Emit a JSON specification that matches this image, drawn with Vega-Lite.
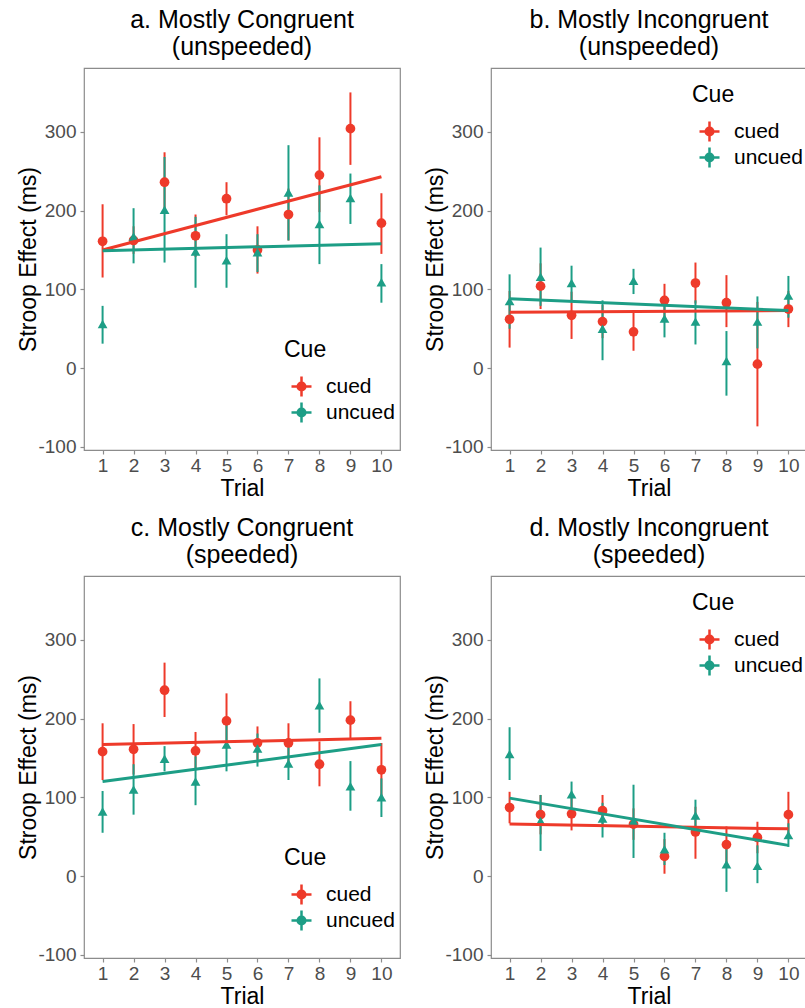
{
  "$schema": "https://vega.github.io/schema/vega-lite/v6.json",
  "padding": {"left": 17, "top": 7, "right": 0, "bottom": 0},
  "bounds": "flush",
  "columns": 2,
  "spacing": {"row": 126, "column": 91},
  "datasets": {
    "means": [
      {"panel": "a", "cue": "cued", "trial": 1, "m": 161, "lo": 115, "hi": 208},
      {"panel": "a", "cue": "cued", "trial": 2, "m": 162, "lo": 145, "hi": 180},
      {"panel": "a", "cue": "cued", "trial": 3, "m": 236, "lo": 198, "hi": 274},
      {"panel": "a", "cue": "cued", "trial": 4, "m": 168, "lo": 141, "hi": 195},
      {"panel": "a", "cue": "cued", "trial": 5, "m": 215, "lo": 194, "hi": 236},
      {"panel": "a", "cue": "cued", "trial": 6, "m": 150, "lo": 120, "hi": 180},
      {"panel": "a", "cue": "cued", "trial": 7, "m": 195, "lo": 162, "hi": 228},
      {"panel": "a", "cue": "cued", "trial": 8, "m": 245, "lo": 198, "hi": 293},
      {"panel": "a", "cue": "cued", "trial": 9, "m": 304, "lo": 258, "hi": 350},
      {"panel": "a", "cue": "cued", "trial": 10, "m": 184, "lo": 145, "hi": 222},
      {"panel": "a", "cue": "uncued", "trial": 1, "m": 56, "lo": 31, "hi": 79},
      {"panel": "a", "cue": "uncued", "trial": 2, "m": 167, "lo": 133, "hi": 203},
      {"panel": "a", "cue": "uncued", "trial": 3, "m": 201, "lo": 134, "hi": 268},
      {"panel": "a", "cue": "uncued", "trial": 4, "m": 148, "lo": 102, "hi": 192},
      {"panel": "a", "cue": "uncued", "trial": 5, "m": 137, "lo": 102, "hi": 170},
      {"panel": "a", "cue": "uncued", "trial": 6, "m": 147, "lo": 122, "hi": 170},
      {"panel": "a", "cue": "uncued", "trial": 7, "m": 223, "lo": 162, "hi": 283},
      {"panel": "a", "cue": "uncued", "trial": 8, "m": 183, "lo": 132, "hi": 232},
      {"panel": "a", "cue": "uncued", "trial": 9, "m": 216, "lo": 183, "hi": 247},
      {"panel": "a", "cue": "uncued", "trial": 10, "m": 109, "lo": 83, "hi": 132},
      {"panel": "b", "cue": "cued", "trial": 1, "m": 62, "lo": 26, "hi": 98},
      {"panel": "b", "cue": "cued", "trial": 2, "m": 104, "lo": 75, "hi": 133},
      {"panel": "b", "cue": "cued", "trial": 3, "m": 67, "lo": 37, "hi": 97},
      {"panel": "b", "cue": "cued", "trial": 4, "m": 59, "lo": 38, "hi": 80},
      {"panel": "b", "cue": "cued", "trial": 5, "m": 46, "lo": 22, "hi": 71},
      {"panel": "b", "cue": "cued", "trial": 6, "m": 86, "lo": 65, "hi": 107},
      {"panel": "b", "cue": "cued", "trial": 7, "m": 108, "lo": 82, "hi": 134},
      {"panel": "b", "cue": "cued", "trial": 8, "m": 83, "lo": 52, "hi": 118},
      {"panel": "b", "cue": "cued", "trial": 9, "m": 5, "lo": -74, "hi": 84},
      {"panel": "b", "cue": "cued", "trial": 10, "m": 75, "lo": 52, "hi": 98},
      {"panel": "b", "cue": "uncued", "trial": 1, "m": 85, "lo": 50, "hi": 119},
      {"panel": "b", "cue": "uncued", "trial": 2, "m": 116, "lo": 79, "hi": 153},
      {"panel": "b", "cue": "uncued", "trial": 3, "m": 108, "lo": 86, "hi": 130},
      {"panel": "b", "cue": "uncued", "trial": 4, "m": 50, "lo": 10, "hi": 86},
      {"panel": "b", "cue": "uncued", "trial": 5, "m": 111, "lo": 94, "hi": 126},
      {"panel": "b", "cue": "uncued", "trial": 6, "m": 63, "lo": 39, "hi": 86},
      {"panel": "b", "cue": "uncued", "trial": 7, "m": 59, "lo": 30, "hi": 86},
      {"panel": "b", "cue": "uncued", "trial": 8, "m": 9, "lo": -35, "hi": 47},
      {"panel": "b", "cue": "uncued", "trial": 9, "m": 59, "lo": 25, "hi": 91},
      {"panel": "b", "cue": "uncued", "trial": 10, "m": 92, "lo": 64, "hi": 117},
      {"panel": "c", "cue": "cued", "trial": 1, "m": 158, "lo": 122, "hi": 194},
      {"panel": "c", "cue": "cued", "trial": 2, "m": 161, "lo": 129, "hi": 193},
      {"panel": "c", "cue": "cued", "trial": 3, "m": 236, "lo": 202, "hi": 271},
      {"panel": "c", "cue": "cued", "trial": 4, "m": 159, "lo": 135, "hi": 183},
      {"panel": "c", "cue": "cued", "trial": 5, "m": 197, "lo": 162, "hi": 232},
      {"panel": "c", "cue": "cued", "trial": 6, "m": 169, "lo": 148, "hi": 190},
      {"panel": "c", "cue": "cued", "trial": 7, "m": 169, "lo": 145, "hi": 194},
      {"panel": "c", "cue": "cued", "trial": 8, "m": 142, "lo": 114, "hi": 171},
      {"panel": "c", "cue": "cued", "trial": 9, "m": 198, "lo": 175, "hi": 222},
      {"panel": "c", "cue": "cued", "trial": 10, "m": 135, "lo": 101, "hi": 169},
      {"panel": "c", "cue": "uncued", "trial": 1, "m": 82, "lo": 55, "hi": 108},
      {"panel": "c", "cue": "uncued", "trial": 2, "m": 110, "lo": 78, "hi": 142},
      {"panel": "c", "cue": "uncued", "trial": 3, "m": 149, "lo": 133, "hi": 165},
      {"panel": "c", "cue": "uncued", "trial": 4, "m": 120, "lo": 90, "hi": 152},
      {"panel": "c", "cue": "uncued", "trial": 5, "m": 167, "lo": 133, "hi": 194},
      {"panel": "c", "cue": "uncued", "trial": 6, "m": 162, "lo": 139, "hi": 181},
      {"panel": "c", "cue": "uncued", "trial": 7, "m": 143, "lo": 122, "hi": 164},
      {"panel": "c", "cue": "uncued", "trial": 8, "m": 217, "lo": 182, "hi": 251},
      {"panel": "c", "cue": "uncued", "trial": 9, "m": 114, "lo": 83, "hi": 146},
      {"panel": "c", "cue": "uncued", "trial": 10, "m": 100, "lo": 75, "hi": 124},
      {"panel": "d", "cue": "cued", "trial": 1, "m": 87, "lo": 67, "hi": 107},
      {"panel": "d", "cue": "cued", "trial": 2, "m": 78, "lo": 53, "hi": 103},
      {"panel": "d", "cue": "cued", "trial": 3, "m": 79, "lo": 58, "hi": 100},
      {"panel": "d", "cue": "cued", "trial": 4, "m": 83, "lo": 63, "hi": 103},
      {"panel": "d", "cue": "cued", "trial": 5, "m": 66, "lo": 46, "hi": 86},
      {"panel": "d", "cue": "cued", "trial": 6, "m": 25, "lo": 3, "hi": 47},
      {"panel": "d", "cue": "cued", "trial": 7, "m": 56, "lo": 22, "hi": 88},
      {"panel": "d", "cue": "cued", "trial": 8, "m": 40, "lo": 17, "hi": 63},
      {"panel": "d", "cue": "cued", "trial": 9, "m": 49, "lo": 29, "hi": 69},
      {"panel": "d", "cue": "cued", "trial": 10, "m": 78, "lo": 50, "hi": 107},
      {"panel": "d", "cue": "uncued", "trial": 1, "m": 155, "lo": 122, "hi": 189},
      {"panel": "d", "cue": "uncued", "trial": 2, "m": 70, "lo": 32, "hi": 103},
      {"panel": "d", "cue": "uncued", "trial": 3, "m": 104, "lo": 83, "hi": 120},
      {"panel": "d", "cue": "uncued", "trial": 4, "m": 73, "lo": 49, "hi": 93},
      {"panel": "d", "cue": "uncued", "trial": 5, "m": 70, "lo": 23, "hi": 116},
      {"panel": "d", "cue": "uncued", "trial": 6, "m": 34, "lo": 14, "hi": 55},
      {"panel": "d", "cue": "uncued", "trial": 7, "m": 77, "lo": 58, "hi": 97},
      {"panel": "d", "cue": "uncued", "trial": 8, "m": 15, "lo": -20, "hi": 42},
      {"panel": "d", "cue": "uncued", "trial": 9, "m": 13, "lo": -9, "hi": 39},
      {"panel": "d", "cue": "uncued", "trial": 10, "m": 52, "lo": 37, "hi": 67}
    ],
    "fits": [
      {"panel": "a", "cue": "cued", "trial": 1, "fit": 150},
      {"panel": "a", "cue": "cued", "trial": 10, "fit": 243},
      {"panel": "a", "cue": "uncued", "trial": 1, "fit": 149},
      {"panel": "a", "cue": "uncued", "trial": 10, "fit": 158},
      {"panel": "b", "cue": "cued", "trial": 1, "fit": 71},
      {"panel": "b", "cue": "cued", "trial": 10, "fit": 73},
      {"panel": "b", "cue": "uncued", "trial": 1, "fit": 88},
      {"panel": "b", "cue": "uncued", "trial": 10, "fit": 73},
      {"panel": "c", "cue": "cued", "trial": 1, "fit": 167},
      {"panel": "c", "cue": "cued", "trial": 10, "fit": 175},
      {"panel": "c", "cue": "uncued", "trial": 1, "fit": 120},
      {"panel": "c", "cue": "uncued", "trial": 10, "fit": 167},
      {"panel": "d", "cue": "cued", "trial": 1, "fit": 66},
      {"panel": "d", "cue": "cued", "trial": 10, "fit": 60},
      {"panel": "d", "cue": "uncued", "trial": 1, "fit": 99},
      {"panel": "d", "cue": "uncued", "trial": 10, "fit": 39}
    ]
  },
  "config": {
    "font": "Liberation Sans",
    "view": {"stroke": "#8c8c8c", "strokeWidth": 1.2},
    "axis": {"grid": false, "domain": false, "tickColor": "#8c8c8c", "tickSize": 4, "tickWidth": 1.2, "labelColor": "#4d4d4d", "labelFontSize": 19, "labelFont": "Liberation Sans", "titleFont": "Liberation Sans", "titleFontSize": 23, "titleColor": "#000000", "titleFontWeight": "normal", "labelPadding": 3, "labelOverlap": false, "labelExpr": "'' + datum.value"},
    "axisY": {"titlePadding": -3, "labelPadding": 4},
    "axisX": {"titlePadding": 2, "labelPadding": 2, "tickCount": 10},
    "title": {"fontSize": 25, "fontWeight": "normal", "lineHeight": 27, "color": "#000000", "anchor": "middle", "offset": 8, "font": "Liberation Sans"},
    "legend": {"titleFontSize": 23, "titleFontWeight": "normal", "titleColor": "#000000", "labelFontSize": 21, "labelColor": "#000000", "symbolSize": 100, "symbolStrokeWidth": 2.5, "symbolOffset": 7, "rowPadding": -7, "labelOffset": 14, "titlePadding": 14, "padding": 0, "titleFont": "Liberation Sans", "labelFont": "Liberation Sans"}
  },
  "resolve": {"scale": {"color": "independent", "shape": "independent"}, "legend": {"color": "independent", "shape": "independent"}},
  "concat": [
    {
      "width": 316, "height": 382,
      "title": {"text": ["a. Mostly Congruent", "(unspeeded)"]},
      "layer": [
        {"data": {"name": "means"}, "transform": [{"filter": "datum.panel === 'a'"}],
         "mark": {"type": "rule", "strokeWidth": 2},
         "encoding": {
           "x": {"field": "trial", "type": "quantitative", "scale": {"domain": [0.4, 10.6], "nice": false, "zero": false}, "axis": {"values": [1,2,3,4,5,6,7,8,9,10], "tickCount": 10, "title": "Trial", "labelOverlap": false}},
           "y": {"field": "lo", "type": "quantitative", "scale": {"domain": [-104, 381], "nice": false, "zero": false}, "axis": {"values": [-100, 0, 100, 200, 300], "title": "Stroop Effect (ms)", "labelOverlap": false}},
           "y2": {"field": "hi"},
           "color": {"field": "cue", "type": "nominal", "scale": {"domain": ["cued", "uncued"], "range": ["#EE3A2A", "#1D9E86"]}}}},
        {"data": {"name": "means"}, "transform": [{"filter": "datum.panel === 'a'"}],
         "mark": {"type": "point", "filled": true, "size": 95, "opacity": 1},
         "encoding": {
           "x": {"field": "trial", "type": "quantitative"},
           "y": {"field": "m", "type": "quantitative"},
           "color": {"field": "cue", "type": "nominal", "scale": {"domain": ["cued", "uncued"], "range": ["#EE3A2A", "#1D9E86"]},
             "legend": {"title": "Cue", "orient": "none", "legendX": 200, "legendY": 271, "symbolType": "M-2,0L2,0M0,-2L0,2M0.76,0A0.76,0.76,0,1,1,-0.76,0A0.76,0.76,0,1,1,0.76,0Z"}},
           "shape": {"field": "cue", "type": "nominal", "scale": {"domain": ["uncued", "cued"], "range": ["triangle-up", "circle"]}, "legend": null}}},
        {"data": {"name": "fits"}, "transform": [{"filter": "datum.panel === 'a'"}],
         "mark": {"type": "line", "strokeWidth": 3},
         "encoding": {
           "x": {"field": "trial", "type": "quantitative"},
           "y": {"field": "fit", "type": "quantitative"},
           "color": {"field": "cue", "type": "nominal", "scale": {"domain": ["cued", "uncued"], "range": ["#EE3A2A", "#1D9E86"]}}}}
      ]
    },
    {
      "width": 316, "height": 382,
      "title": {"text": ["b. Mostly Incongruent", "(unspeeded)"]},
      "layer": [
        {"data": {"name": "means"}, "transform": [{"filter": "datum.panel === 'b'"}],
         "mark": {"type": "rule", "strokeWidth": 2},
         "encoding": {
           "x": {"field": "trial", "type": "quantitative", "scale": {"domain": [0.4, 10.6], "nice": false, "zero": false}, "axis": {"values": [1,2,3,4,5,6,7,8,9,10], "tickCount": 10, "title": "Trial", "labelOverlap": false}},
           "y": {"field": "lo", "type": "quantitative", "scale": {"domain": [-104, 381], "nice": false, "zero": false}, "axis": {"values": [-100, 0, 100, 200, 300], "title": "Stroop Effect (ms)", "labelOverlap": false}},
           "y2": {"field": "hi"},
           "color": {"field": "cue", "type": "nominal", "scale": {"domain": ["cued", "uncued"], "range": ["#EE3A2A", "#1D9E86"]}}}},
        {"data": {"name": "means"}, "transform": [{"filter": "datum.panel === 'b'"}],
         "mark": {"type": "point", "filled": true, "size": 95, "opacity": 1},
         "encoding": {
           "x": {"field": "trial", "type": "quantitative"},
           "y": {"field": "m", "type": "quantitative"},
           "color": {"field": "cue", "type": "nominal", "scale": {"domain": ["cued", "uncued"], "range": ["#EE3A2A", "#1D9E86"]},
             "legend": {"title": "Cue", "orient": "none", "legendX": 201, "legendY": 16, "symbolType": "M-2,0L2,0M0,-2L0,2M0.76,0A0.76,0.76,0,1,1,-0.76,0A0.76,0.76,0,1,1,0.76,0Z"}},
           "shape": {"field": "cue", "type": "nominal", "scale": {"domain": ["uncued", "cued"], "range": ["triangle-up", "circle"]}, "legend": null}}},
        {"data": {"name": "fits"}, "transform": [{"filter": "datum.panel === 'b'"}],
         "mark": {"type": "line", "strokeWidth": 3},
         "encoding": {
           "x": {"field": "trial", "type": "quantitative"},
           "y": {"field": "fit", "type": "quantitative"},
           "color": {"field": "cue", "type": "nominal", "scale": {"domain": ["cued", "uncued"], "range": ["#EE3A2A", "#1D9E86"]}}}}
      ]
    },
    {
      "width": 316, "height": 382,
      "title": {"text": ["c. Mostly Congruent", "(speeded)"]},
      "layer": [
        {"data": {"name": "means"}, "transform": [{"filter": "datum.panel === 'c'"}],
         "mark": {"type": "rule", "strokeWidth": 2},
         "encoding": {
           "x": {"field": "trial", "type": "quantitative", "scale": {"domain": [0.4, 10.6], "nice": false, "zero": false}, "axis": {"values": [1,2,3,4,5,6,7,8,9,10], "tickCount": 10, "title": "Trial", "labelOverlap": false}},
           "y": {"field": "lo", "type": "quantitative", "scale": {"domain": [-104, 381], "nice": false, "zero": false}, "axis": {"values": [-100, 0, 100, 200, 300], "title": "Stroop Effect (ms)", "labelOverlap": false}},
           "y2": {"field": "hi"},
           "color": {"field": "cue", "type": "nominal", "scale": {"domain": ["cued", "uncued"], "range": ["#EE3A2A", "#1D9E86"]}}}},
        {"data": {"name": "means"}, "transform": [{"filter": "datum.panel === 'c'"}],
         "mark": {"type": "point", "filled": true, "size": 95, "opacity": 1},
         "encoding": {
           "x": {"field": "trial", "type": "quantitative"},
           "y": {"field": "m", "type": "quantitative"},
           "color": {"field": "cue", "type": "nominal", "scale": {"domain": ["cued", "uncued"], "range": ["#EE3A2A", "#1D9E86"]},
             "legend": {"title": "Cue", "orient": "none", "legendX": 200, "legendY": 271, "symbolType": "M-2,0L2,0M0,-2L0,2M0.76,0A0.76,0.76,0,1,1,-0.76,0A0.76,0.76,0,1,1,0.76,0Z"}},
           "shape": {"field": "cue", "type": "nominal", "scale": {"domain": ["uncued", "cued"], "range": ["triangle-up", "circle"]}, "legend": null}}},
        {"data": {"name": "fits"}, "transform": [{"filter": "datum.panel === 'c'"}],
         "mark": {"type": "line", "strokeWidth": 3},
         "encoding": {
           "x": {"field": "trial", "type": "quantitative"},
           "y": {"field": "fit", "type": "quantitative"},
           "color": {"field": "cue", "type": "nominal", "scale": {"domain": ["cued", "uncued"], "range": ["#EE3A2A", "#1D9E86"]}}}}
      ]
    },
    {
      "width": 316, "height": 382,
      "title": {"text": ["d. Mostly Incongruent", "(speeded)"]},
      "layer": [
        {"data": {"name": "means"}, "transform": [{"filter": "datum.panel === 'd'"}],
         "mark": {"type": "rule", "strokeWidth": 2},
         "encoding": {
           "x": {"field": "trial", "type": "quantitative", "scale": {"domain": [0.4, 10.6], "nice": false, "zero": false}, "axis": {"values": [1,2,3,4,5,6,7,8,9,10], "tickCount": 10, "title": "Trial", "labelOverlap": false}},
           "y": {"field": "lo", "type": "quantitative", "scale": {"domain": [-104, 381], "nice": false, "zero": false}, "axis": {"values": [-100, 0, 100, 200, 300], "title": "Stroop Effect (ms)", "labelOverlap": false}},
           "y2": {"field": "hi"},
           "color": {"field": "cue", "type": "nominal", "scale": {"domain": ["cued", "uncued"], "range": ["#EE3A2A", "#1D9E86"]}}}},
        {"data": {"name": "means"}, "transform": [{"filter": "datum.panel === 'd'"}],
         "mark": {"type": "point", "filled": true, "size": 95, "opacity": 1},
         "encoding": {
           "x": {"field": "trial", "type": "quantitative"},
           "y": {"field": "m", "type": "quantitative"},
           "color": {"field": "cue", "type": "nominal", "scale": {"domain": ["cued", "uncued"], "range": ["#EE3A2A", "#1D9E86"]},
             "legend": {"title": "Cue", "orient": "none", "legendX": 201, "legendY": 16, "symbolType": "M-2,0L2,0M0,-2L0,2M0.76,0A0.76,0.76,0,1,1,-0.76,0A0.76,0.76,0,1,1,0.76,0Z"}},
           "shape": {"field": "cue", "type": "nominal", "scale": {"domain": ["uncued", "cued"], "range": ["triangle-up", "circle"]}, "legend": null}}},
        {"data": {"name": "fits"}, "transform": [{"filter": "datum.panel === 'd'"}],
         "mark": {"type": "line", "strokeWidth": 3},
         "encoding": {
           "x": {"field": "trial", "type": "quantitative"},
           "y": {"field": "fit", "type": "quantitative"},
           "color": {"field": "cue", "type": "nominal", "scale": {"domain": ["cued", "uncued"], "range": ["#EE3A2A", "#1D9E86"]}}}}
      ]
    }
  ]
}
